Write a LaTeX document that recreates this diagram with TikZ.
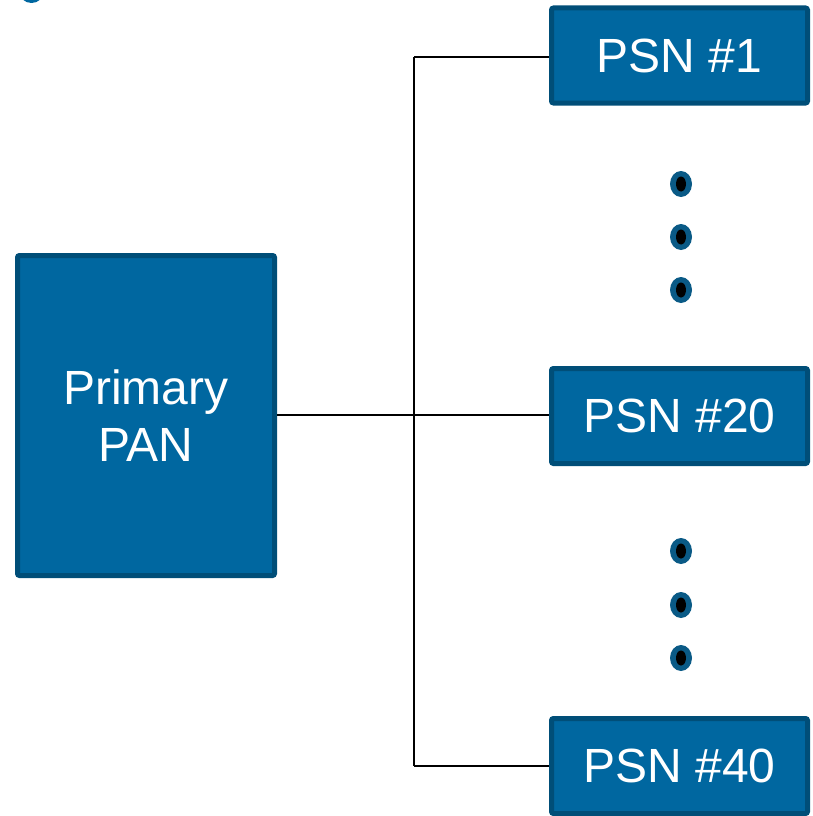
\documentclass[tikz,border=0pt]{standalone}
\usepackage{fontspec}
\setmainfont{Liberation Sans}
\definecolor{boxfill}{HTML}{0067A0}
\definecolor{boxedge}{HTML}{004E78}
\definecolor{dotedge}{HTML}{0A5A86}
\begin{document}
\begin{tikzpicture}[x=1pt,y=-1pt,
  unitbox/.style={draw=boxedge, fill=boxfill, line width=5pt, rounded corners=2pt,
    text=white, font=\fontsize{48}{57}\selectfont, align=center, inner sep=0pt},
  link/.style={draw=black, line width=1.8pt}]
\useasboundingbox (0,0) rectangle (813,816);
\clip (0,0) rectangle (813,816);

% partial badge at the upper left edge
\fill[boxfill] (31.5,-8) ellipse [x radius=12, y radius=11];

% boxes
\node[unitbox, minimum width=257pt, minimum height=320pt] (pan) at (146,415.5) {Primary\\PAN};
\node[unitbox, minimum width=256pt, minimum height=95pt] (psn1) at (679.5,55.5) {PSN \#1};
\node[unitbox, minimum width=256pt, minimum height=95pt] (psn20) at (679.5,416) {PSN \#20};
\node[unitbox, minimum width=256pt, minimum height=95pt] (psn40) at (679.5,766) {PSN \#40};

% bus
\coordinate (top) at (414,57);
\coordinate (mid) at (414,415);
\coordinate (bot) at (414,766);
\draw[link] (top) -- (bot);
\draw[link] (pan.east |- mid) -- (psn20.west |- mid);
\draw[link] (top) -- (psn1.west |- top);
\draw[link] (bot) -- (psn40.west |- bot);

% ellipsis dots
\foreach \yy in {184,237,290,551,605,658}{
  \fill[dotedge] (681,\yy) ellipse [x radius=11, y radius=13];
  \fill[black] (681,\yy) ellipse [x radius=5, y radius=7.5];
}
\end{tikzpicture}
\end{document}
